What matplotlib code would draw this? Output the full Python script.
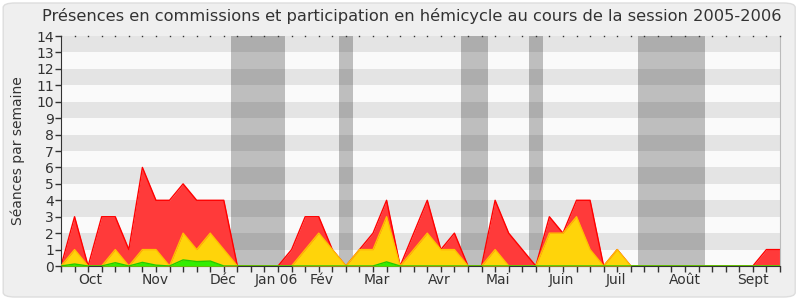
import matplotlib
matplotlib.use("Agg")
import matplotlib.pyplot as plt
import numpy as np
from matplotlib.patches import FancyBboxPatch

title = "Présences en commissions et participation en hémicycle au cours de la session 2005-2006"
ylabel = "Séances par semaine"

# weekly values (54 weeks)
total = [0, 3, 0, 3, 3, 1, 6, 4, 4, 5, 4, 4, 4, 0, 0, 0, 0, 1, 3, 3,
         1, 0, 1, 2, 4, 0, 2, 4, 1, 2, 0, 0, 4, 2, 1, 0, 3, 2, 4, 4,
         0, 1, 0, 0, 0, 0, 0, 0, 0, 0, 0, 0, 1, 1]
hemicycle = [0, 1, 0, 0, 1, 0, 1, 1, 0, 2, 1, 2, 1, 0, 0, 0, 0, 0, 1, 2,
             1, 0, 1, 1, 3, 0, 1, 2, 1, 1, 0, 0, 1, 0, 0, 0, 2, 2, 3, 1,
             0, 1, 0, 0, 0, 0, 0, 0, 0, 0, 0, 0, 0, 0]
green = [0, 0.12, 0, 0, 0.2, 0, 0.22, 0.05, 0, 0.37, 0.27, 0.3, 0, 0, 0, 0, 0, 0, 0, 0,
         0, 0, 0, 0, 0.25, 0, 0, 0, 0, 0, 0, 0, 0, 0, 0, 0, 0, 0, 0, 0,
         0, 0, 0, 0, 0, 0, 0, 0, 0, 0, 0, 0, 0, 0]

vacations = [(12.5, 16.5), (20.5, 21.5), (29.5, 31.5), (34.5, 35.5), (42.5, 47.5)]
month_labels = ["Oct", "Nov", "Déc", "Jan 06", "Fév", "Mar", "Avr", "Mai", "Juin", "Juil", "Août", "Sept"]
month_pos = [2.15, 6.95, 11.95, 15.9, 19.2, 23.3, 27.9, 32.2, 36.9, 40.9, 46.0, 51.0]

fig = plt.figure(figsize=(8, 3), dpi=100)
fig.patch.set_facecolor("white")
bg = FancyBboxPatch((0.004, 0.01), 0.99, 0.98, boxstyle="round,pad=0,rounding_size=0.015",
                    transform=fig.transFigure, facecolor="#efefef", edgecolor="#dddddd",
                    linewidth=1, zorder=-10)
fig.patches.append(bg)

ax = fig.add_axes([61/800, 1 - 266/300, (780-61)/800, (266-36)/300])
ax.set_zorder(1)
ax.set_facecolor("#fafafa")
n = len(total)
x = np.arange(n)
ax.set_xlim(0, n - 1)
ax.set_ylim(0, 14)

for a, b in vacations:
    ax.axvspan(a, b, color="#bebebe", zorder=0.5, lw=0)
for k in range(1, 14, 2):
    ax.axhspan(k, k + 1, color="black", alpha=0.085, zorder=0.6, lw=0)

ax.fill_between(x, total, color="#ff3a3a", zorder=2, lw=0)
ax.plot(x, total, color="#ff0000", lw=1, zorder=2.1)
ax.fill_between(x, hemicycle, color="#ffd40a", zorder=3, lw=0)
ax.plot(x, hemicycle, color="#ffc000", lw=1, zorder=3.1)
ax.fill_between(x, green, color="#33ee00", zorder=4, lw=0)
ax.plot(x, green, color="#22cc00", lw=1, zorder=4.1)

ax.spines["top"].set_visible(False)
ax.spines["right"].set_color("#bbbbbb")
ax.spines["bottom"].set_color("#333333")
ax.spines["left"].set_color("#333333")

ax.set_yticks(range(0, 15))
ax.tick_params(axis="y", length=4, width=1, color="#333333", labelsize=10, labelcolor="#333333", pad=1)
ax.xaxis.remove_overlapping_locs = False
ax.set_xticks(x)
ax.set_xticklabels([])
ax.tick_params(axis="x", which="major", length=4, width=1, color="#333333", direction="out")
ax.set_xticks(month_pos, minor=True)
ax.set_xticklabels(month_labels, minor=True)
ax.tick_params(axis="x", which="minor", length=0, labelsize=10, labelcolor="#333333", pad=5)
# top dotted ticks
ax.plot(x, np.full(n, 14), ls="none", marker="s", ms=1.0, color="#333333",
        clip_on=False, zorder=5, mew=0)

ax.set_ylabel(ylabel, fontsize=10, color="#333333", labelpad=8)
fig.text(0.5 + 12/800, 1 - 16/300, title, ha="center", va="center", fontsize=11.7, color="#333333")

fig.savefig("out.png", dpi=100, facecolor=fig.get_facecolor())
